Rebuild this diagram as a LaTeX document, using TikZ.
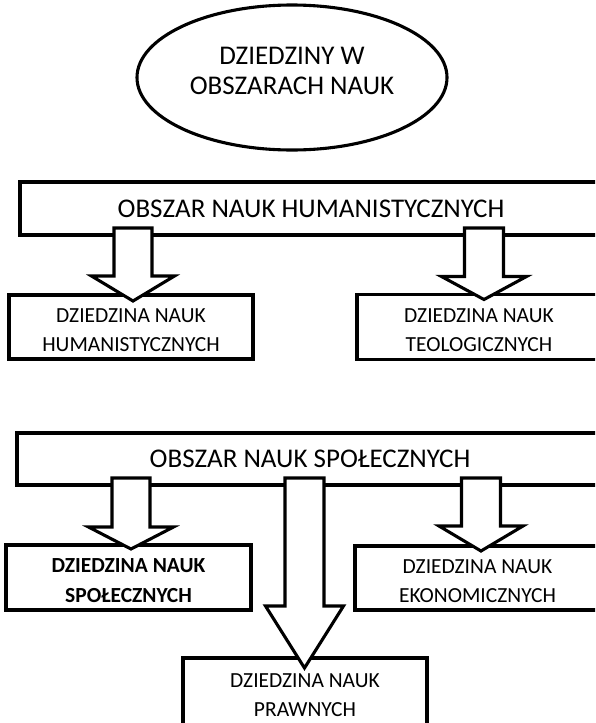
\documentclass[tikz,border=0pt]{standalone}
\usepackage{fontspec}
\setmainfont{Carlito}
\usetikzlibrary{shapes.geometric,calc}
\newcommand\blockarrow[7]{% x, from, to, shaft half, head half, head length, tip overlap
  \draw[blk] let \p1=(#2.south), \p2=(#3.north) in
    ({#1pt-#4pt},{\y1+7pt}) -- ({#1pt-#4pt},{\y2-#7pt+#6pt}) --
    ({#1pt-#5pt},{\y2-#7pt+#6pt}) -- ({#1pt},{\y2-#7pt}) --
    ({#1pt+#5pt},{\y2-#7pt+#6pt}) -- ({#1pt+#4pt},{\y2-#7pt+#6pt}) --
    ({#1pt+#4pt},{\y1+7pt}) -- cycle;
}
\newcommand\twolines[3][-4pt]{\raisebox{#1}[\height][\depth]{\begin{tabular}{@{}c@{}}#2\\#3\end{tabular}}}
\begin{document}
\begin{tikzpicture}[x=1pt,y=-1pt,
  base/.style={draw=black, fill=white, line width=3.1pt, outer sep=0pt, inner sep=0pt, text=black},
  hdr/.style={base, rectangle, font=\fontsize{27}{30}\selectfont},
  box/.style={base, rectangle, font=\fontsize{21.5}{29.5}\selectfont},
  oval/.style={base, ellipse, font=\fontsize{27}{30}\selectfont},
  blk/.style={draw=black, fill=white, line width=3.1pt, line join=miter}]
\useasboundingbox (0,0) rectangle (595,723);
\clip (0,0) rectangle (595,723);
\fill[white] (0,0) rectangle (595,723);

\node[oval, minimum width=310pt, minimum height=145pt] (E) at (292,77.5)
  {\twolines[4pt]{DZIEDZINY W}{OBSZARACH NAUK}};

% humanities
\node[hdr, minimum width=582pt, minimum height=53pt] (H) at (311,208.5) {OBSZAR NAUK HUMANISTYCZNYCH};
\node[box, minimum width=244pt, minimum height=64pt] (DH) at (131,327) {\twolines{DZIEDZINA NAUK}{HUMANISTYCZNYCH}};
\node[box, minimum width=244pt, minimum height=65pt] (DT) at (479,327) {\twolines{DZIEDZINA NAUK}{TEOLOGICZNYCH}};

% social
\node[hdr, minimum width=586pt, minimum height=52pt] (S) at (310,459) {OBSZAR NAUK SPOŁECZNYCH};
\node[box, minimum width=245pt, minimum height=65pt, font=\fontsize{21.5}{29.5}\selectfont\bfseries] (DS) at (128.5,577.5) {\twolines{DZIEDZINA NAUK}{SPOŁECZNYCH}};
\node[box, minimum width=245pt, minimum height=64pt] (DE) at (477.5,578) {\twolines{DZIEDZINA NAUK}{EKONOMICZNYCH}};
\node[box, minimum width=244pt, minimum height=70pt] (DP) at (305,693) {\twolines[-3pt]{DZIEDZINA NAUK}{PRAWNYCH}};

% block arrows
\blockarrow{133}{H}{DH}{19}{41.5}{25}{6}
\blockarrow{484}{H}{DT}{19.5}{42.5}{23}{5}
\blockarrow{131}{S}{DS}{19}{42.5}{22}{4}
\blockarrow{304.5}{S}{DP}{19.5}{39}{62}{10}
\blockarrow{481}{S}{DE}{19.5}{42}{25}{5}
\end{tikzpicture}
\end{document}
